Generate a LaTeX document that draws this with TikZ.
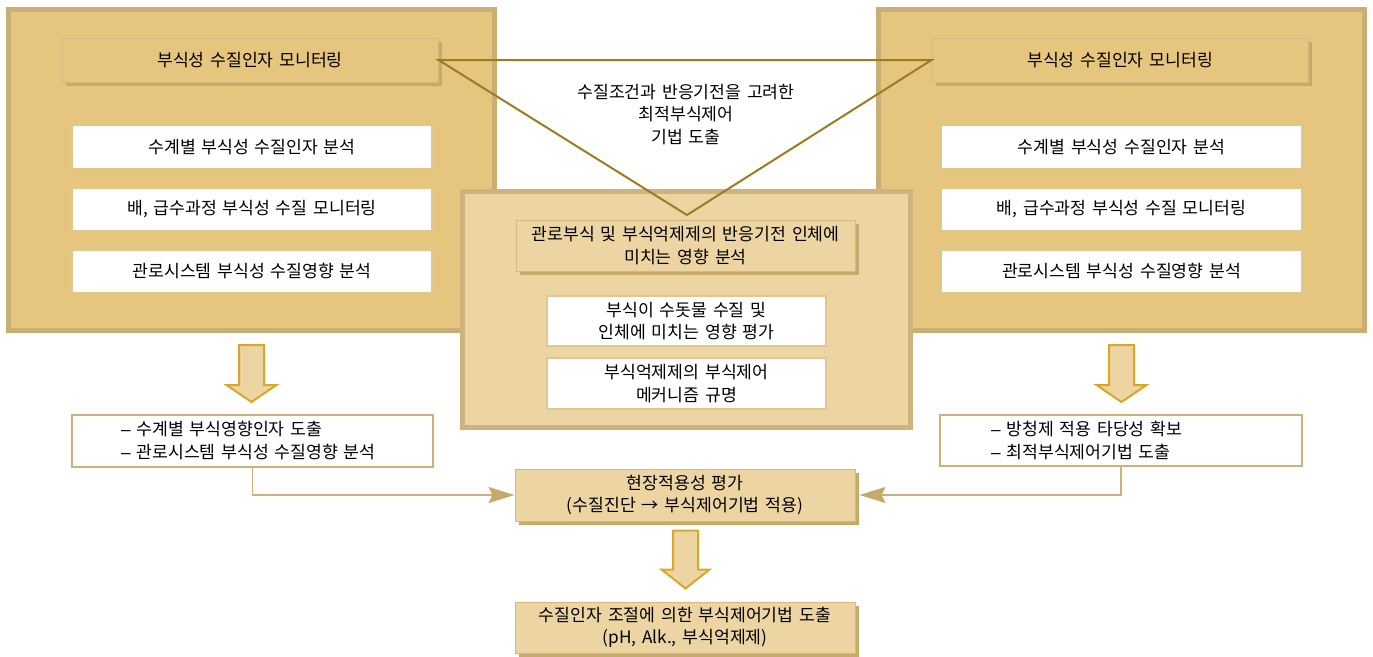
\documentclass[tikz,border=0pt]{standalone}
\usepackage{fontspec}
\setmainfont{Noto Sans CJK KR}[WordSpace=1.5]
\newfontfamily\dashfont{Liberation Sans}
\newcommand{\mydash}{{\dashfont –}}
\usetikzlibrary{calc,shadows,arrows.meta}
\definecolor{bigfill}{HTML}{E6C67E}
\definecolor{bigborder}{HTML}{C9AF74}
\definecolor{cfill}{HTML}{EDD5A3}
\definecolor{cborder}{HTML}{CDB47F}
\definecolor{shadowcol}{HTML}{C6AA68}
\definecolor{tborder}{HTML}{D5B97C}
\definecolor{wborder}{HTML}{DFC78E}
\definecolor{triline}{HTML}{9E7C1E}
\definecolor{arrborder}{HTML}{D9A62A}
\definecolor{connline}{HTML}{CBB27A}
\begin{document}
\begin{tikzpicture}[x=1pt,y=-1pt,
  every node/.style={font=\fontsize{17.2}{22.5}\selectfont, text=black, inner sep=0pt, align=center},
  bigbox/.style={draw=bigborder, fill=bigfill, line width=5pt, minimum width=486pt, minimum height=321pt},
  cbox/.style={draw=cborder, fill=cfill, line width=5pt, minimum width=448pt, minimum height=236pt},
  titlebox/.style={draw=tborder, fill=#1, line width=1pt,
     drop shadow={shadow xshift=4pt, shadow yshift=-4pt, fill=shadowcol, opacity=1}},
  whitebox/.style={draw=wborder, fill=white, line width=1.2pt},
  resbox/.style={draw=connline, fill=white, line width=1.2pt, minimum width=361pt, minimum height=52pt},
  blockarrow/.style={draw=arrborder, fill=cfill, line width=2pt, line join=miter},
  conn/.style={draw=connline, line width=1.5pt, -{Stealth[length=26pt,width=16pt,inset=4pt,color=shadowcol]}},
  tri/.style={draw=triline, line width=2pt, line join=miter}
]
\useasboundingbox (0,0) rectangle (1373,656);
% big boxes
\node[bigbox] (Lbig) at (251.5,170) {};
\node[bigbox] (Rbig) at (1121.5,170) {};
% titles
\node[titlebox=bigfill, minimum width=376pt, minimum height=44pt] (LT) at (250,60) {부식성 수질인자 모니터링};
\node[titlebox=bigfill, minimum width=376pt, minimum height=44pt] (RT) at (1120,60) {부식성 수질인자 모니터링};
% left white boxes
\node[whitebox, minimum width=360pt, minimum height=43pt] (L1) at (252,147) {수계별 부식성 수질인자 분석};
\node[whitebox, minimum width=360pt, minimum height=43pt] (L2) at (252,209.5) {배, 급수과정 부식성 수질 모니터링};
\node[whitebox, minimum width=360pt, minimum height=43pt] (L3) at (252,271.5) {관로시스템 부식성 수질영향 분석};
% right white boxes
\node[whitebox, minimum width=361pt, minimum height=43pt] (R1) at (1121.5,147) {수계별 부식성 수질인자 분석};
\node[whitebox, minimum width=361pt, minimum height=43pt] (R2) at (1121.5,209.5) {배, 급수과정 부식성 수질 모니터링};
\node[whitebox, minimum width=361pt, minimum height=43pt] (R3) at (1121.5,271.5) {관로시스템 부식성 수질영향 분석};
% center box
\node[cbox] (Cbig) at (686.5,309.5) {};
\node[titlebox=cfill, minimum width=339pt, minimum height=51pt] (CT) at (685.5,245.5) {관로부식 및 부식억제제의 반응기전 인체에\\미치는 영향 분석};
\node[whitebox, minimum width=279pt, minimum height=50pt] (C1) at (686.5,321) {부식이 수돗물 수질 및\\인체에 미치는 영향 평가};
\node[whitebox, minimum width=279pt, minimum height=51pt] (C2) at (686.5,383.5) {부식억제제의 부식제어\\메커니즘 규명};
% triangle
\coordinate (apex) at (687,215);
\draw[tri] (LT.east) -- (RT.west) -- (apex) -- cycle;
\node (TT) at (686,114.5) {수질조건과 반응기전을 고려한\\최적부식제어\\기법 도출};
% results
\node[resbox] (Lres) at (252.5,441) {};
\node[anchor=west, align=left] (LresT) at (121,440.5) {\mydash{} 수계별 부식영향인자 도출\\\mydash{} 관로시스템 부식성 수질영향 분석};
\node[resbox, minimum width=362pt, minimum height=51pt] (Rres) at (1121,440.5) {};
\node[anchor=west, align=left] (RresT) at (991,440.5) {\mydash{} 방청제 적용 타당성 확보\\\mydash{} 최적부식제어기법 도출};
\node[titlebox=cfill, minimum width=340pt, minimum height=52pt] (Cres) at (685,495) {현장적용성 평가\\(수질진단 → 부식제어기법 적용)};
\node[titlebox=cfill, minimum width=340pt, minimum height=51pt] (Bot) at (685,627.5) {수질인자 조절에 의한 부식제어기법 도출\\(pH, Alk., 부식억제제)};
% block arrows
\draw[blockarrow] ($(Lbig.south)+(-12.5,12)$) -- ++(25,0) -- ++(0,40) -- ++(12.5,0) -- ++(-25,17) -- ++(-25,-17) -- ++(12.5,0) -- cycle;
\draw[blockarrow] ($(Rbig.south)+(-12.5,12)$) -- ++(25,0) -- ++(0,40) -- ++(12.5,0) -- ++(-25,17) -- ++(-25,-17) -- ++(12.5,0) -- cycle;
\draw[blockarrow] ($(Cres.south)+(-12,9)$) -- ++(25,0) -- ++(0,39) -- ++(11.5,0) -- ++(-24,19) -- ++(-24,-19) -- ++(11.5,0) -- cycle;
% connectors
\draw[conn] (Lres.south) |- (Cres.west);
\coordinate (CresE) at ($(Cres.east)+(4,0)$);
\draw[conn] (Rres.south) |- (CresE);
\end{tikzpicture}
\end{document}
